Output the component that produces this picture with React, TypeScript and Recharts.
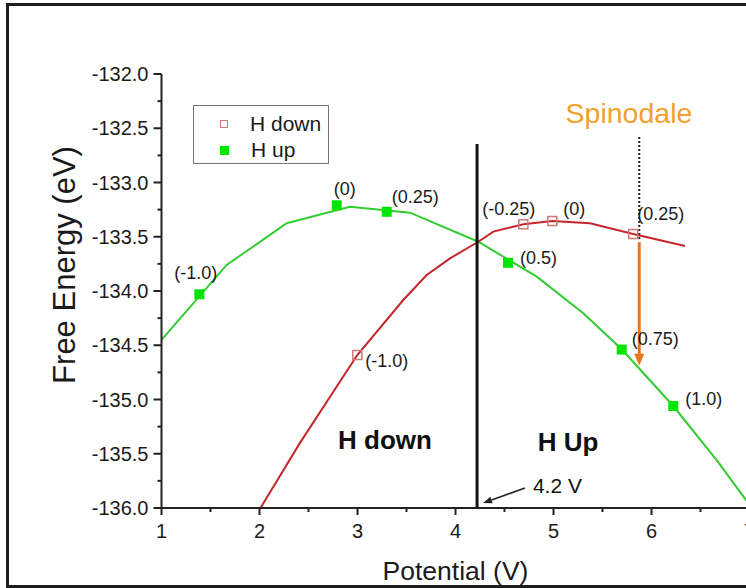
import React from "react"
import {
    ComposedChart,
    Legend,
    Line,
    ReferenceDot,
    ReferenceLine,
    Scatter,
    XAxis,
    YAxis,
} from "recharts"

const FONT = '"Liberation Sans", Arial, Helvetica, sans-serif'

// computed points, labelled with the H charge
const hUpX = [1.386, 2.788, 3.298, 4.536, 5.696, 6.222]
const hUpY = [-134.03, -133.21, -133.27, -133.74, -134.54, -135.06]
const hUpLabels = ["(-1.0)", "(0)", "(0.25)", "(0.5)", "(0.75)", "(1.0)"]

const hDownX = [2.998, 4.692, 4.988, 5.814]
const hDownY = [-134.59, -133.385, -133.355, -133.475]
const hDownLabels = ["(-1.0)", "(-0.25)", "(0)", "(0.25)"]

// fitted curves
const hUpCurveX = [1.0, 1.665, 2.278, 2.923, 3.536, 4.233, 4.829, 5.304, 5.696, 6.222, 6.665, 7.0]
const hUpCurveY = [-134.45, -133.76, -133.376, -133.223, -133.278, -133.546, -133.868, -134.205, -134.537, -135.06, -135.558, -135.97]

const hDownCurveX = [2.01, 2.413, 2.998, 3.467, 3.706, 3.944, 4.233, 4.386, 4.692, 4.988, 5.372, 5.814, 6.342]
const hDownCurveY = [-136.0, -135.4, -134.59, -134.083, -133.853, -133.699, -133.546, -133.453, -133.385, -133.355, -133.376, -133.475, -133.585]

const xTicks = [1, 1.5, 2, 2.5, 3, 3.5, 4, 4.5, 5, 5.5, 6, 6.5, 7]
const yTicks = [-136, -135.75, -135.5, -135.25, -135, -134.75, -134.5, -134.25, -134, -133.75, -133.5, -133.25, -133, -132.75, -132.5, -132.25, -132]

const crossing = 4.22
const spinodale = 5.875

// label placement next to each marker (px), kept apart from the values
const hUpLabelPos = [[-25, -15], [-3, -10], [5, -9], [12, 1], [10, -5], [12, -1]]
const hDownLabelPos = [[8, 12], [-41, -9], [11, -6], [4, -14]]

const GREEN_LINE = "#33cc33"
const GREEN_MARK = "#00e600"
const RED_LINE = "#c3262b"
const RED_MARK = "#d27878"
const ORANGE = "#e8741e"
const ORANGE_TEXT = "#f2a02c"

const zip = (xs: number[], ys: number[]) => xs.map((x, i) => ({ x, y: ys[i] }))
const hUpCurve = zip(hUpCurveX, hUpCurveY)
const hDownCurve = zip(hDownCurveX, hDownCurveY)
const hUpPts = hUpX.map((x, i) => ({ x, y: hUpY[i], label: hUpLabels[i], i }))
const hDownPts = hDownX.map((x, i) => ({ x, y: hDownY[i], label: hDownLabels[i], i }))

const marker = (filled: boolean, pos: number[][]) => (props: any) => {
    const { cx, cy, payload } = props
    if (cx == null || cy == null) return <g />
    const [dx, dy] = pos[payload.i]
    return (
        <g>
            {filled ? (
                <rect x={cx - 5} y={cy - 5} width={10} height={10} fill={GREEN_MARK} />
            ) : (
                <rect x={cx - 4.5} y={cy - 4.5} width={9} height={9} fill="none" stroke={RED_MARK} strokeWidth={1.5} />
            )}
            <text x={cx + dx} y={cy + dy} fontSize={18} fontFamily={FONT} fill="#1a1a1a">
                {payload.label}
            </text>
        </g>
    )
}

const XTick = (props: any) => {
    const { x, y, payload } = props
    const major = Number.isInteger(payload.value)
    return (
        <g>
            <line x1={x} x2={x} y1={y} y2={y + (major ? 7 : 4)} stroke="#222" strokeWidth={2} />
            {major && (
                <text x={x} y={y + 30} textAnchor="middle" fontSize={20} fontFamily={FONT} fill="#1a1a1a">
                    {payload.value}
                </text>
            )}
        </g>
    )
}

const YTick = (props: any) => {
    const { x, y, payload } = props
    const major = Math.abs(payload.value * 2 - Math.round(payload.value * 2)) < 1e-6
    return (
        <g>
            <line x1={x} x2={x - (major ? 8 : 4)} y1={y} y2={y} stroke="#222" strokeWidth={2} />
            {major && (
                <text x={x - 13} y={y + 7} textAnchor="end" fontSize={20} fontFamily={FONT} fill="#1a1a1a">
                    {payload.value.toFixed(1)}
                </text>
            )}
        </g>
    )
}

const arrow = (color: string, width: number, head: number, half: number) => (props: any) => {
    const { x1, y1, x2, y2 } = props
    const len = Math.hypot(x2 - x1, y2 - y1) || 1
    const ux = (x2 - x1) / len
    const uy = (y2 - y1) / len
    const bx = x2 - ux * head
    const by = y2 - uy * head
    return (
        <g>
            <line x1={x1} y1={y1} x2={bx} y2={by} stroke={color} strokeWidth={width} />
            <polygon
                points={`${x2},${y2} ${bx - uy * half},${by + ux * half} ${bx + uy * half},${by - ux * half}`}
                fill={color}
            />
        </g>
    )
}

const note = (text: string, size: number, color: string, bold: boolean, anchor: string) => (props: any) => (
    <text
        x={props.cx}
        y={props.cy}
        textAnchor={anchor}
        fontSize={size}
        fontWeight={bold ? "bold" : "normal"}
        fontFamily={FONT}
        fill={color}
    >
        {text}
    </text>
)

const legendNames = ["H down", "H up"]

const LegendBox = () => (
    <div
        style={{
            width: 136,
            height: 59,
            boxSizing: "border-box",
            border: "1px solid #777",
            background: "#fff",
            fontFamily: FONT,
            fontSize: 21,
            color: "#1a1a1a",
            position: "relative",
        }}
    >
        {legendNames.map((name, i) => (
            <div key={name} style={{ position: "absolute", left: 0, top: 6 + i * 26, height: 24, display: "flex", alignItems: "center" }}>
                <span
                    style={{
                        display: "inline-block",
                        marginLeft: 26,
                        width: i === 0 ? 8 : 9,
                        height: i === 0 ? 8 : 9,
                        boxSizing: "border-box",
                        border: i === 0 ? `1.5px solid ${RED_MARK}` : "none",
                        background: i === 0 ? "transparent" : GREEN_MARK,
                    }}
                />
                <span style={{ marginLeft: 22, lineHeight: "24px" }}>{name}</span>
            </div>
        ))}
    </div>
)

export default function App() {
    return (
        <div style={{ position: "absolute", left: 0, top: 0, width: 746, height: 588, overflow: "hidden", background: "#fff" }}>
            <div
                style={{
                    position: "absolute",
                    left: 6,
                    top: 3,
                    width: 800,
                    height: 585,
                    boxSizing: "border-box",
                    border: "3px solid #1c1c1c",
                }}
            />
            <div style={{ position: "absolute", left: 0, top: 0 }}>
                <ComposedChart width={760} height={588} margin={{ top: 74, right: 10.5, bottom: 40, left: 61.5 }}>
                    <XAxis
                        type="number"
                        dataKey="x"
                        domain={[1, 7]}
                        ticks={xTicks}
                        interval={0}
                        allowDataOverflow
                        tickSize={0}
                        tickMargin={0}
                        tickLine={false}
                        tick={<XTick />}
                        axisLine={{ stroke: "#222", strokeWidth: 2 }}
                        height={40}
                        label={(p: any) => (
                            <text
                                x={p.viewBox.x + p.viewBox.width / 2}
                                y={p.viewBox.y + 72}
                                textAnchor="middle"
                                fontSize={26.5}
                                fontFamily={FONT}
                                fill="#1a1a1a"
                            >
                                Potential (V)
                            </text>
                        )}
                    />
                    <YAxis
                        type="number"
                        dataKey="y"
                        domain={[-136, -132]}
                        ticks={yTicks}
                        interval={0}
                        allowDataOverflow
                        tickSize={0}
                        tickMargin={0}
                        tickLine={false}
                        tick={<YTick />}
                        axisLine={{ stroke: "#222", strokeWidth: 2 }}
                        width={100}
                        label={() => (
                            <text
                                x={75}
                                y={265}
                                transform="rotate(-90, 75, 265)"
                                textAnchor="middle"
                                fontSize={31}
                                fontFamily={FONT}
                                fill="#1a1a1a"
                            >
                                Free Energy (eV)
                            </text>
                        )}
                    />
                    <Line
                        data={hUpCurve}
                        dataKey="y"
                        stroke={GREEN_LINE}
                        strokeWidth={2}
                        dot={false}
                        activeDot={false}
                        legendType="none"
                        isAnimationActive={false}
                    />
                    <Line
                        data={hDownCurve}
                        dataKey="y"
                        stroke={RED_LINE}
                        strokeWidth={2}
                        dot={false}
                        activeDot={false}
                        legendType="none"
                        isAnimationActive={false}
                    />
                    <ReferenceLine
                        segment={[{ x: crossing, y: -136 }, { x: crossing, y: -132.645 }]}
                        stroke="#111"
                        strokeWidth={3}
                    />
                    <ReferenceLine
                        segment={[{ x: spinodale, y: -132.58 }, { x: spinodale, y: -133.54 }]}
                        stroke="#222"
                        strokeWidth={2}
                        strokeDasharray="2 2"
                    />
                    <ReferenceLine
                        segment={[{ x: spinodale, y: -133.55 }, { x: spinodale, y: -134.69 }]}
                        shape={arrow(ORANGE, 3, 12, 5)}
                    />
                    <ReferenceLine
                        segment={[{ x: 4.709, y: -135.816 }, { x: 4.281, y: -135.954 }]}
                        shape={arrow("#222", 1.5, 9, 3.5)}
                    />
                    <Scatter
                        name="H down"
                        data={hDownPts}
                        dataKey="y"
                        shape={marker(false, hDownLabelPos)}
                        isAnimationActive={false}
                    />
                    <Scatter
                        name="H up"
                        data={hUpPts}
                        dataKey="y"
                        shape={marker(true, hUpLabelPos)}
                        isAnimationActive={false}
                    />
                    <ReferenceDot x={3.28} y={-135.456} r={0} shape={note("H down", 26, "#111", true, "middle")} />
                    <ReferenceDot x={5.148} y={-135.475} r={0} shape={note("H Up", 26, "#111", true, "middle")} />
                    <ReferenceDot x={4.79} y={-135.86} r={0} shape={note("4.2 V", 21, "#111", false, "start")} />
                    <ReferenceDot x={5.77} y={-132.45} r={0} shape={note("Spinodale", 28.5, ORANGE_TEXT, false, "middle")} />
                    <Legend
                        layout="vertical"
                        align="center"
                        verticalAlign="middle"
                        wrapperStyle={{ left: 193, top: 105, width: 136, height: 59 }}
                        content={<LegendBox />}
                    />
                </ComposedChart>
            </div>
        </div>
    )
}
